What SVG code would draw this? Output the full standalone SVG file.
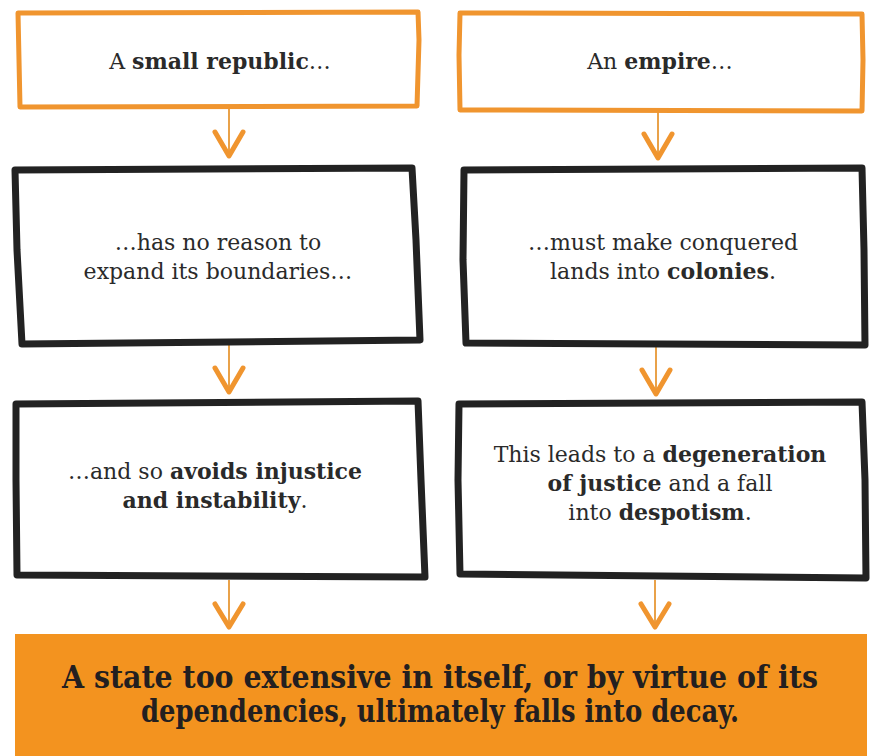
<svg xmlns="http://www.w3.org/2000/svg" width="874" height="756" viewBox="0 0 874 756">
<defs>
<style>
.ob{fill:#fff;stroke:#F0952F;stroke-width:5;stroke-linejoin:round}
.bb{fill:#fff;stroke:#222;stroke-width:7;stroke-linejoin:round}
.t{font-family:"DejaVu Serif","Liberation Serif",serif;font-size:22px;fill:#2a2a2a;text-anchor:middle}
.b{font-weight:bold}
.line{stroke:#E9A24A;stroke-width:2;fill:none}
.chev{stroke:#F0952F;stroke-width:5;fill:none;stroke-linecap:round;stroke-linejoin:round}
.fin{font-family:"DejaVu Serif Condensed","DejaVu Serif","Liberation Serif",serif;font-weight:bold;font-size:31px;fill:#231f20;text-anchor:middle}
</style>
</defs>
<rect width="874" height="756" fill="#fff"/>
<g id="connectors">
  <path class="line" d="M229 107 V158"/><path class="chev" d="M215 132 L229 156 L243 132"/>
  <path class="line" d="M658 110 V160"/><path class="chev" d="M644 134 L658 158 L672 134"/>
  <path class="line" d="M229 344 V393"/><path class="chev" d="M215 368 L229 392 L243 368"/>
  <path class="line" d="M656 346 V395"/><path class="chev" d="M642 370 L656 394 L670 370"/>
  <path class="line" d="M229 580 V628"/><path class="chev" d="M215 604 L229 627 L243 604"/>
  <path class="line" d="M655 580 V628"/><path class="chev" d="M641 604 L655 627 L669 604"/>
</g>
<g id="small-republic">
  <path class="ob" d="M18 13 L418 12 L419 40 L417 106 L20 107 L19 60 Z"/>
  <text class="t" x="220" y="69">A <tspan class="b">small republic</tspan>…</text>
</g>
<g id="empire">
  <path class="ob" d="M460 13 L862 14 L863 60 L862 111 L460 110 L459 55 Z"/>
  <text class="t" x="660" y="69">An <tspan class="b">empire</tspan>…</text>
</g>
<g id="no-reason">
  <path class="bb" d="M15 170 L412 168 L416 240 L420 340 L22 344 L17 250 Z"/>
  <text class="t" x="218" y="250">…has no reason to</text>
  <text class="t" x="218" y="279">expand its boundaries…</text>
</g>
<g id="colonies">
  <path class="bb" d="M464 170 L862 168 L864 250 L865 345 L466 343 L463 260 Z"/>
  <text class="t" x="663" y="250">…must make conquered</text>
  <text class="t" x="663" y="279">lands into <tspan class="b">colonies</tspan>.</text>
</g>
<g id="avoids-injustice">
  <path class="bb" d="M16 404 L418 401 L421 480 L425 577 L17 575 L16 480 Z"/>
  <text class="t" x="215" y="479">…and so <tspan class="b">avoids injustice</tspan></text>
  <text class="t" x="215" y="508"><tspan class="b">and instability</tspan>.</text>
</g>
<g id="degeneration">
  <path class="bb" d="M459 404 L862 402 L865 480 L866 578 L460 574 L458 480 Z"/>
  <text class="t" x="660" y="462">This leads to a <tspan class="b">degeneration</tspan></text>
  <text class="t" x="660" y="491"><tspan class="b">of justice</tspan> and a fall</text>
  <text class="t" x="660" y="520">into <tspan class="b">despotism</tspan>.</text>
</g>
<g id="decay">
  <rect x="15" y="634" width="852" height="122" fill="#F3931F"/>
  <text class="fin" x="440" y="688" textLength="756" lengthAdjust="spacingAndGlyphs">A state too extensive in itself, or by virtue of its</text>
  <text class="fin" x="440" y="722" textLength="598" lengthAdjust="spacingAndGlyphs">dependencies, ultimately falls into decay.</text>
</g>
</svg>
